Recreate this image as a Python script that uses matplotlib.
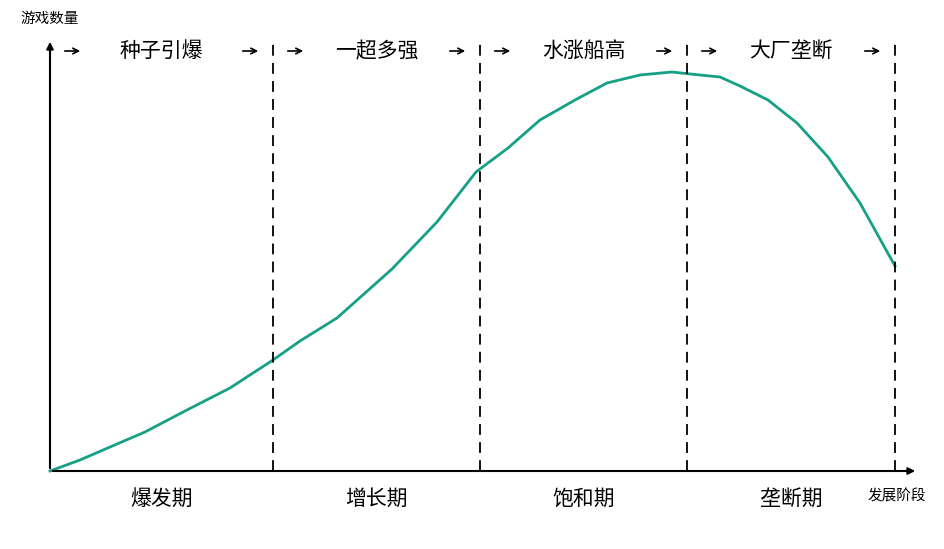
import matplotlib
matplotlib.use("Agg")
import matplotlib.pyplot as plt

plt.rcParams["font.family"] = "Noto Sans CJK SC"

# curve data (x position, height above x-axis) in chart units
curve_x = [0, 30, 60, 95, 135, 180, 223, 250, 287, 342, 387, 426, 458, 490, 525, 557, 590, 622, 640, 670, 690, 718, 747, 778, 810, 845]
curve_y = [0, 11, 24, 39, 60, 83, 111, 130, 153, 202, 249, 299, 323, 351, 371, 388, 396, 399, 397, 394, 385, 371, 348, 314, 268, 205]
boundaries = [223, 430, 637, 845]
top_labels = ["种子引爆", "一超多强", "水涨船高", "大厂垄断"]
bottom_labels = ["爆发期", "增长期", "饱和期", "垄断期"]
y_label = "游戏数量"
x_label = "发展阶段"

fig = plt.figure(figsize=(9.45, 5.49), dpi=100)
ax = fig.add_axes([0, 0, 1, 1])
ox, oy = 50, 471
ax.set_xlim(-ox, 945 - ox)
ax.set_ylim(-(549 - oy), oy)
ax.axis("off")

# axes arrows
ax.annotate("", xy=(868, 0), xytext=(0, 0),
            arrowprops=dict(arrowstyle="-|>", color="black", lw=1.5, mutation_scale=10))
ax.annotate("", xy=(0, 432), xytext=(0, 0),
            arrowprops=dict(arrowstyle="-|>", color="black", lw=1.5, mutation_scale=10))
ax.text(-30, 452, y_label, fontsize=10.5, ha="left", va="center")
ax.text(818, -25, x_label, fontsize=10.5, ha="left", va="center")

ax.plot(curve_x, curve_y, color="#16a085", lw=2)

for b in boundaries:
    ax.plot([b, b], [0, 428], color="black", lw=1.3, ls=(0, (6, 4)))

starts = [0] + boundaries[:-1]
for s, e, t, bl in zip(starts, boundaries, top_labels, bottom_labels):
    mid = (s + e) / 2
    ax.text(mid, 420, t, fontsize=15, ha="center", va="center")
    ax.text(mid, -28, bl, fontsize=15, ha="center", va="center")
    ax.annotate("", xy=(s + 33, 420), xytext=(s + 12, 420),
                arrowprops=dict(arrowstyle="->", color="black", lw=1.2))
    ax.annotate("", xy=(e - 33, 420), xytext=(e - 12, 420),
                arrowprops=dict(arrowstyle="<-", color="black", lw=1.2))

fig.savefig("out.png", dpi=100)
